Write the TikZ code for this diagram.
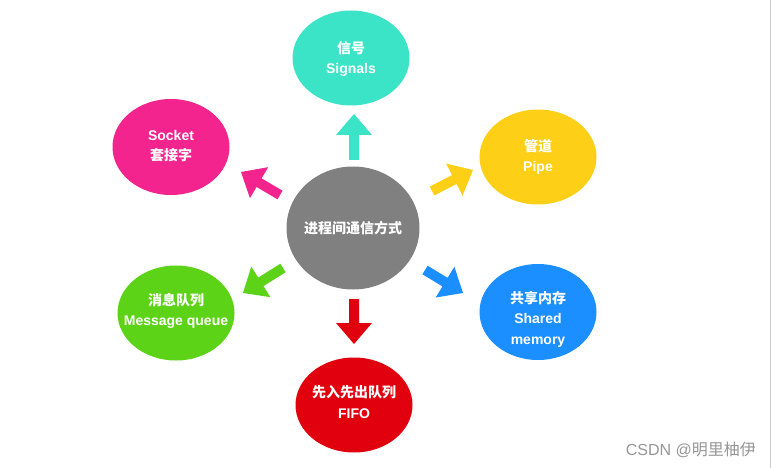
\documentclass[tikz,border=0pt]{standalone}
\usepackage{fontspec}
\setmainfont{Liberation Sans}
\newfontfamily\cjk{Noto Sans CJK SC}
\usetikzlibrary{shapes.geometric,calc}
\definecolor{cteal}{RGB}{59,228,199}
\definecolor{cyellow}{RGB}{253,208,23}
\definecolor{cpink}{RGB}{243,36,142}
\definecolor{cgreen}{RGB}{93,211,23}
\definecolor{cblue}{RGB}{27,143,255}
\definecolor{cred}{RGB}{224,0,14}
\definecolor{cgray}{RGB}{128,128,128}
\newcommand\blockarr[3]{%
  \coordinate (H) at ($(#3)!21pt!(#2)$);
  \fill[#1] ($(#2)!5pt!90:(#3)$) -- ($(H)!5pt!90:(#3)$) -- ($(H)!18pt!90:(#3)$) -- (#3)
    -- ($(H)!18pt!-90:(#3)$) -- ($(H)!5pt!-90:(#3)$) -- ($(#2)!5pt!-90:(#3)$) -- cycle;}
\begin{document}
\begin{tikzpicture}[x=1pt,y=-1pt,
  txt/.style={inner sep=0pt, text=white, font=\fontsize{14}{20.5}\selectfont\bfseries, align=center}]
\useasboundingbox[fill=white] (0,0) rectangle (771,468);
\draw[color={rgb,255:red,205;green,205;blue,205}, line width=1pt] (770,0) -- (770,468);

\fill[cgray] (353,228) ellipse [x radius=66.5pt, y radius=61.5pt];
\fill[cteal] (351,58) ellipse [x radius=58.5pt, y radius=47.5pt];
\fill[cyellow] (538,157) ellipse [x radius=58.5pt, y radius=47.5pt];
\fill[cpink] (171,147) ellipse [x radius=58.5pt, y radius=48pt];
\fill[cgreen] (176,313) ellipse [x radius=58.5pt, y radius=47.5pt];
\fill[cblue] (538,312) ellipse [x radius=58.5pt, y radius=48pt];
\fill[cred] (354,405) ellipse [x radius=58.5pt, y radius=47.5pt];

\node[txt] (c) at (353,228) {{\cjk 进程间通信方式}};
\node[txt] (sig) at (351,59) {{\cjk 信号}\\Signals};
\node[txt] (pipe) at (538,157) {{\cjk 管道}\\Pipe};
\node[txt] (sock) at (171,146) {Socket\\{\cjk 套接字}};
\node[txt] (mq) at (176,311) {{\cjk 消息队列}\\Message queue};
\node[txt] (shm) at (538,319) {{\cjk 共享内存}\\Shared\\memory};
\node[txt] (fifo) at (354,402) {{\cjk 先入先出队列}\\FIFO};

\coordinate (a1s) at (354,160); \coordinate (a1e) at (354,114);
\coordinate (a2s) at (354,299); \coordinate (a2e) at (354,344);
\coordinate (a3s) at (432,191); \coordinate (a3e) at (473,170);
\coordinate (a4s) at (283,268); \coordinate (a4e) at (243,293);
\coordinate (a5s) at (280,195); \coordinate (a5e) at (241,172);
\coordinate (a6s) at (425,270); \coordinate (a6e) at (463,293);
\blockarr{cteal}{a1s}{a1e}
\blockarr{cred}{a2s}{a2e}
\blockarr{cyellow}{a3s}{a3e}
\blockarr{cgreen}{a4s}{a4e}
\blockarr{cpink}{a5s}{a5e}
\blockarr{cblue}{a6s}{a6e}

\node[anchor=east, inner sep=0pt, text={rgb,255:red,150;green,150;blue,150}, font=\fontsize{16}{18}\selectfont] (wm) at (756,450) {CSDN @{\cjk 明里柚伊}};
\end{tikzpicture}
\end{document}
